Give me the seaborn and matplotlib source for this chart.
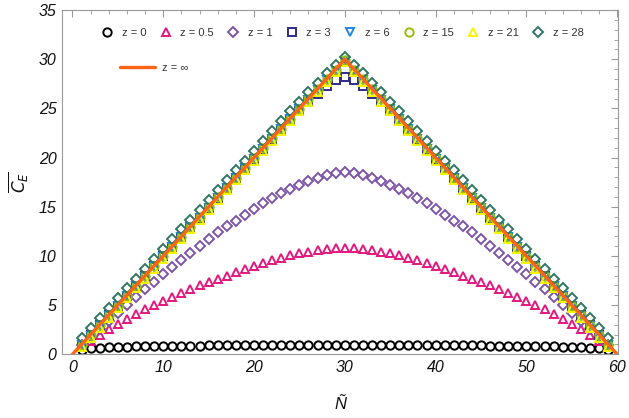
import numpy as np
import matplotlib
matplotlib.use("Agg")
import matplotlib.pyplot as plt
import seaborn as sns
from matplotlib.ticker import MultipleLocator

# N values (x axis)
n_vals = list(range(1, 60))

z0 = [0.45,0.6,0.67,0.72,0.75,0.78,0.8,0.82,0.84,0.85,0.86,0.87,0.88,0.89,0.9,0.91,0.92,0.92,0.93,0.94,0.94,0.95,0.95,0.96,0.96,0.96,0.97,0.97,0.97,0.97,
      0.97,0.97,0.97,0.96,0.96,0.96,0.95,0.95,0.94,0.94,0.93,0.92,0.92,0.91,0.9,0.89,0.88,0.87,0.86,0.85,0.84,0.82,0.8,0.78,0.75,0.72,0.67,0.6,0.45]
z05 = [0.8,1.4,2.0,2.6,3.1,3.6,4.1,4.6,5.0,5.4,5.8,6.2,6.6,7.0,7.4,7.7,8.0,8.4,8.7,9.0,9.3,9.55,9.8,10.05,10.25,10.45,10.6,10.7,10.8,10.85,
       10.8,10.7,10.6,10.45,10.25,10.05,9.8,9.55,9.3,9.0,8.7,8.4,8.0,7.7,7.4,7.0,6.6,6.2,5.8,5.4,5.0,4.6,4.1,3.6,3.1,2.6,2.0,1.4,0.8]
z1 = [0.9,1.8,2.6,3.4,4.2,5.0,5.8,6.6,7.4,8.2,8.9,9.6,10.3,11.0,11.7,12.4,13.0,13.6,14.2,14.8,15.4,15.9,16.4,16.8,17.2,17.6,17.9,18.2,18.4,18.5,
      18.4,18.2,17.9,17.6,17.2,16.8,16.4,15.9,15.4,14.8,14.2,13.6,13.0,12.4,11.7,11.0,10.3,9.6,8.9,8.2,7.4,6.6,5.8,5.0,4.2,3.4,2.6,1.8,0.9]
z3 = [0.95,1.95,2.95,3.95,4.95,5.95,6.95,7.95,8.95,9.95,10.9,11.9,12.9,13.9,14.9,15.9,16.9,17.9,18.9,19.9,20.85,21.85,22.85,23.8,24.7,25.6,26.45,27.25,27.85,28.2,
      27.85,27.25,26.45,25.6,24.7,23.8,22.85,21.85,20.85,19.9,18.9,17.9,16.9,15.9,14.9,13.9,12.9,11.9,10.9,9.95,8.95,7.95,6.95,5.95,4.95,3.95,2.95,1.95,0.95]
z6 = [0.9,1.9,2.9,3.9,4.9,5.9,6.9,7.9,8.9,9.9,10.9,11.9,12.9,13.9,14.9,15.9,16.9,17.9,18.9,19.9,20.9,21.9,22.9,23.9,24.9,25.9,26.9,27.85,28.8,29.7,
      28.8,27.85,26.9,25.9,24.9,23.9,22.9,21.9,20.9,19.9,18.9,17.9,16.9,15.9,14.9,13.9,12.9,11.9,10.9,9.9,8.9,7.9,6.9,5.9,4.9,3.9,2.9,1.9,0.9]
z15 = [0.95,1.95,2.95,3.95,4.95,5.95,6.95,7.95,8.95,9.95,10.95,11.95,12.95,13.95,14.95,15.95,16.95,17.95,18.95,19.95,20.95,21.95,22.95,23.95,24.95,25.95,26.95,27.95,28.95,29.9,
       28.95,27.95,26.95,25.95,24.95,23.95,22.95,21.95,20.95,19.95,18.95,17.95,16.95,15.95,14.95,13.95,12.95,11.95,10.95,9.95,8.95,7.95,6.95,5.95,4.95,3.95,2.95,1.95,0.95]
z21 = [0.7,1.7,2.7,3.7,4.7,5.7,6.7,7.7,8.7,9.7,10.7,11.7,12.7,13.7,14.7,15.7,16.7,17.7,18.7,19.7,20.7,21.7,22.7,23.7,24.7,25.7,26.7,27.7,28.7,29.7,
       28.7,27.7,26.7,25.7,24.7,23.7,22.7,21.7,20.7,19.7,18.7,17.7,16.7,15.7,14.7,13.7,12.7,11.7,10.7,9.7,8.7,7.7,6.7,5.7,4.7,3.7,2.7,1.7,0.7]
z28 = [1.7,2.7,3.7,4.7,5.7,6.7,7.7,8.7,9.7,10.7,11.7,12.7,13.7,14.7,15.7,16.7,17.7,18.7,19.7,20.7,21.7,22.7,23.7,24.7,25.7,26.65,27.6,28.55,29.45,30.2,
       29.45,28.55,27.6,26.65,25.7,24.7,23.7,22.7,21.7,20.7,19.7,18.7,17.7,16.7,15.7,14.7,13.7,12.7,11.7,10.7,9.7,8.7,7.7,6.7,5.7,4.7,3.7,2.7,1.7]

# z = infinity limit
n_inf = [0, 30, 60]
c_inf = [0, 30, 0]

series = [
    ("z = 0", z0, "o", "#000000", 6.0),
    ("z = 0.5", z05, "^", "#E2187F", 6.4),
    ("z = 1", z1, "D", "#7D55A8", 5.2),
    ("z = 3", z3, "s", "#2F2A86", 5.4),
    ("z = 6", z6, "v", "#1D88E5", 6.4),
    ("z = 15", z15, "o", "#97BD0D", 6.0),
    ("z = 21", z21, "^", "#F5F500", 6.4),
    ("z = 28", z28, "D", "#2F7566", 5.2),
]

sns.set_style("white")
plt.rcParams["font.family"] = ["Liberation Sans", "DejaVu Sans"]
plt.rcParams["mathtext.fontset"] = "dejavusans"

fig = plt.figure(figsize=(6.29, 4.18), dpi=100)
ax = fig.add_axes([0.0986, 0.1524, 0.884, 0.8236])

for lab, vals, mk, col, ms in series:
    sns.lineplot(x=n_vals, y=vals, ax=ax, estimator=None, linestyle="", marker=mk,
                 markersize=ms, markerfacecolor="none", markeredgecolor=col,
                 markeredgewidth=1.4, color=col, label=lab, legend=False)

sns.lineplot(x=n_inf, y=c_inf, ax=ax, estimator=None, color="#FF6414", linewidth=2.4,
             label="z = \u221e", legend=False)

ax.set_xlim(-1.15, 60.1)
ax.set_ylim(0, 35)
ax.xaxis.set_major_locator(MultipleLocator(10))
ax.xaxis.set_minor_locator(MultipleLocator(2))
ax.yaxis.set_major_locator(MultipleLocator(5))
ax.yaxis.set_minor_locator(MultipleLocator(1))
ax.tick_params(which="both", direction="in", top=True, right=True, color="#999999",
               labelsize=11.5, pad=4, labelcolor="#111111")
ax.tick_params(which="major", length=5, width=0.8)
ax.tick_params(which="minor", length=2.8, width=0.6)
for lbl in ax.get_xticklabels() + ax.get_yticklabels():
    lbl.set_fontstyle("italic")
for sp in ax.spines.values():
    sp.set_color("#999999")
    sp.set_linewidth(0.8)

ax.set_xlabel("\u00d1", fontsize=12, fontstyle="italic", labelpad=16, color="#111111")
ax.set_ylabel(r"$\overline{C_E}$", fontsize=12, labelpad=6, color="#111111")

handles, labels = ax.get_legend_handles_labels()
leg1 = ax.legend(handles[:8], labels[:8], loc="center", bbox_to_anchor=(0.5045, 0.933),
                 ncol=8, frameon=False, fontsize=8, handlelength=1.0,
                 handletextpad=0.8, columnspacing=1.25, labelcolor="#333333")
ax.add_artist(leg1)
ax.legend(handles[8:], labels[8:], loc="center", bbox_to_anchor=(0.165, 0.833),
          frameon=False, fontsize=8, handlelength=3.2, handletextpad=0.6,
          labelcolor="#333333")

fig.savefig("out.png", dpi=100)
